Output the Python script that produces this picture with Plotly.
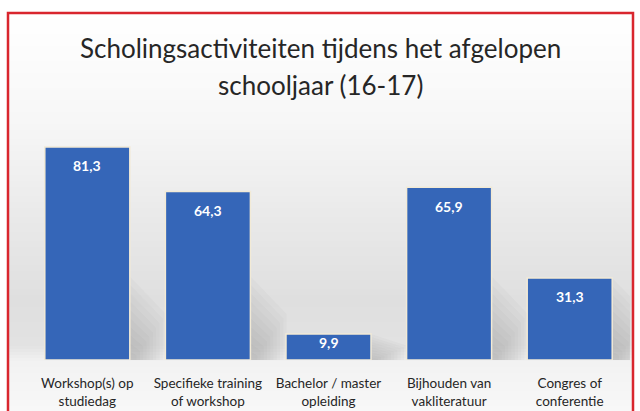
import plotly.graph_objects as go

categories = ["Workshop(s) op<br>studiedag", "Specifieke training<br>of workshop",
              "Bachelor / master<br>opleiding", "Bijhouden van<br>vakliteratuur",
              "Congres of<br>conferentie"]
values = [81.3, 64.3, 9.9, 65.9, 31.3]
value_labels = ["81,3", "64,3", "9,9", "65,9", "31,3"]
title_lines = ["Scholingsactiviteiten tijdens het afgelopen", "schooljaar (16-17)"]

W, H = 640, 411
ML, MR, MT, MB = 27, 10, 120, 51
PW, PH = W - ML - MR, H - MT - MB
Y_MAX = 91.6
PX_PER_UNIT = PH / Y_MAX

def px_to_paper_x(px):
    return (px - ML) / PW

def px_to_paper_y(py):
    return (H - MB - py) / PH

fig = go.Figure()

shapes = []
# background gradient bands
stops = [(0, 255), (13, 255), (120, 247), (220, 233), (300, 223), (345, 226), (362, 242), (411, 248)]
def grey_at(y):
    for (y0, g0), (y1, g1) in zip(stops, stops[1:]):
        if y0 <= y <= y1:
            t = (y - y0) / (y1 - y0) if y1 > y0 else 0
            return g0 + (g1 - g0) * t
    return stops[-1][1]

step = 3
for y in range(13, H, step):
    g = int(round(grey_at(y + step / 2)))
    shapes.append(dict(type="rect", xref="paper", yref="paper", layer="below",
                       x0=px_to_paper_x(9), x1=px_to_paper_x(632),
                       y0=px_to_paper_y(y + step + 0.5), y1=px_to_paper_y(y),
                       line=dict(width=0), fillcolor=f"rgb({g},{g},{g})"))

# soft cast shadows to the right of each bar
n_layers = 10
for i, v in enumerate(values):
    xr = i + 0.3525
    for k in range(n_layers):
        frac = (k + 1) / n_layers
        h = min(v, 32) * frac
        w = 0.27 * frac + 0.03
        shapes.append(dict(type="path", xref="x", yref="y", layer="below",
                           path=f"M {xr},0 L {xr},{h} L {xr+w},{h*0.55} L {xr+w},0 Z",
                           line=dict(width=0), fillcolor="rgba(80,80,80,0.028)"))

# red frame
shapes.append(dict(type="rect", xref="paper", yref="paper",
                   x0=px_to_paper_x(8), x1=px_to_paper_x(633),
                   y0=px_to_paper_y(420), y1=px_to_paper_y(13),
                   line=dict(color="#d9262e", width=2.5), fillcolor="rgba(0,0,0,0)"))

fig.add_trace(go.Bar(
    x=categories, y=values,
    marker=dict(color="#3566b8", line=dict(color="#f2ead6", width=1.5)),
    width=0.705, hoverinfo="x+y",
))

annotations = []
for line_text, yc in zip(title_lines, [48, 85]):
    annotations.append(dict(text=line_text, x=px_to_paper_x(W / 2), xref="paper", xanchor="center",
                            y=px_to_paper_y(yc), yref="paper", yanchor="middle", showarrow=False,
                            font=dict(family="Lato", size=26, color="#262626")))

# value labels inside the top of each bar
for cat, v, lab in zip(categories, values, value_labels):
    bar_px = v * PX_PER_UNIT
    shift = min(19, bar_px * 0.33)
    annotations.append(dict(text=f"<b>{lab}</b>", x=cat, y=v, xref="x", yref="y",
                            xanchor="center", yanchor="middle", yshift=-shift, showarrow=False,
                            font=dict(family="Lato", size=14, color="white")))

fig.update_layout(
    width=W, height=H,
    margin=dict(l=ML, r=MR, t=MT, b=MB, autoexpand=False),
    paper_bgcolor="white", plot_bgcolor="rgba(0,0,0,0)",
    shapes=shapes, annotations=annotations,
    showlegend=False,
    xaxis=dict(showgrid=False, showline=False, zeroline=False, automargin=False,
               range=[-0.5, 4.5], autorange=False,
               ticks="outside", ticklen=11, tickcolor="rgba(0,0,0,0)",
               tickfont=dict(family="Lato", size=13.5, color="#262626")),
    yaxis=dict(range=[0, Y_MAX], autorange=False, visible=False, showgrid=False, automargin=False),
)

fig.write_html("out.html", config={"displayModeBar": False},
               post_script="document.body.style.margin='0';document.body.style.overflow='hidden';")
